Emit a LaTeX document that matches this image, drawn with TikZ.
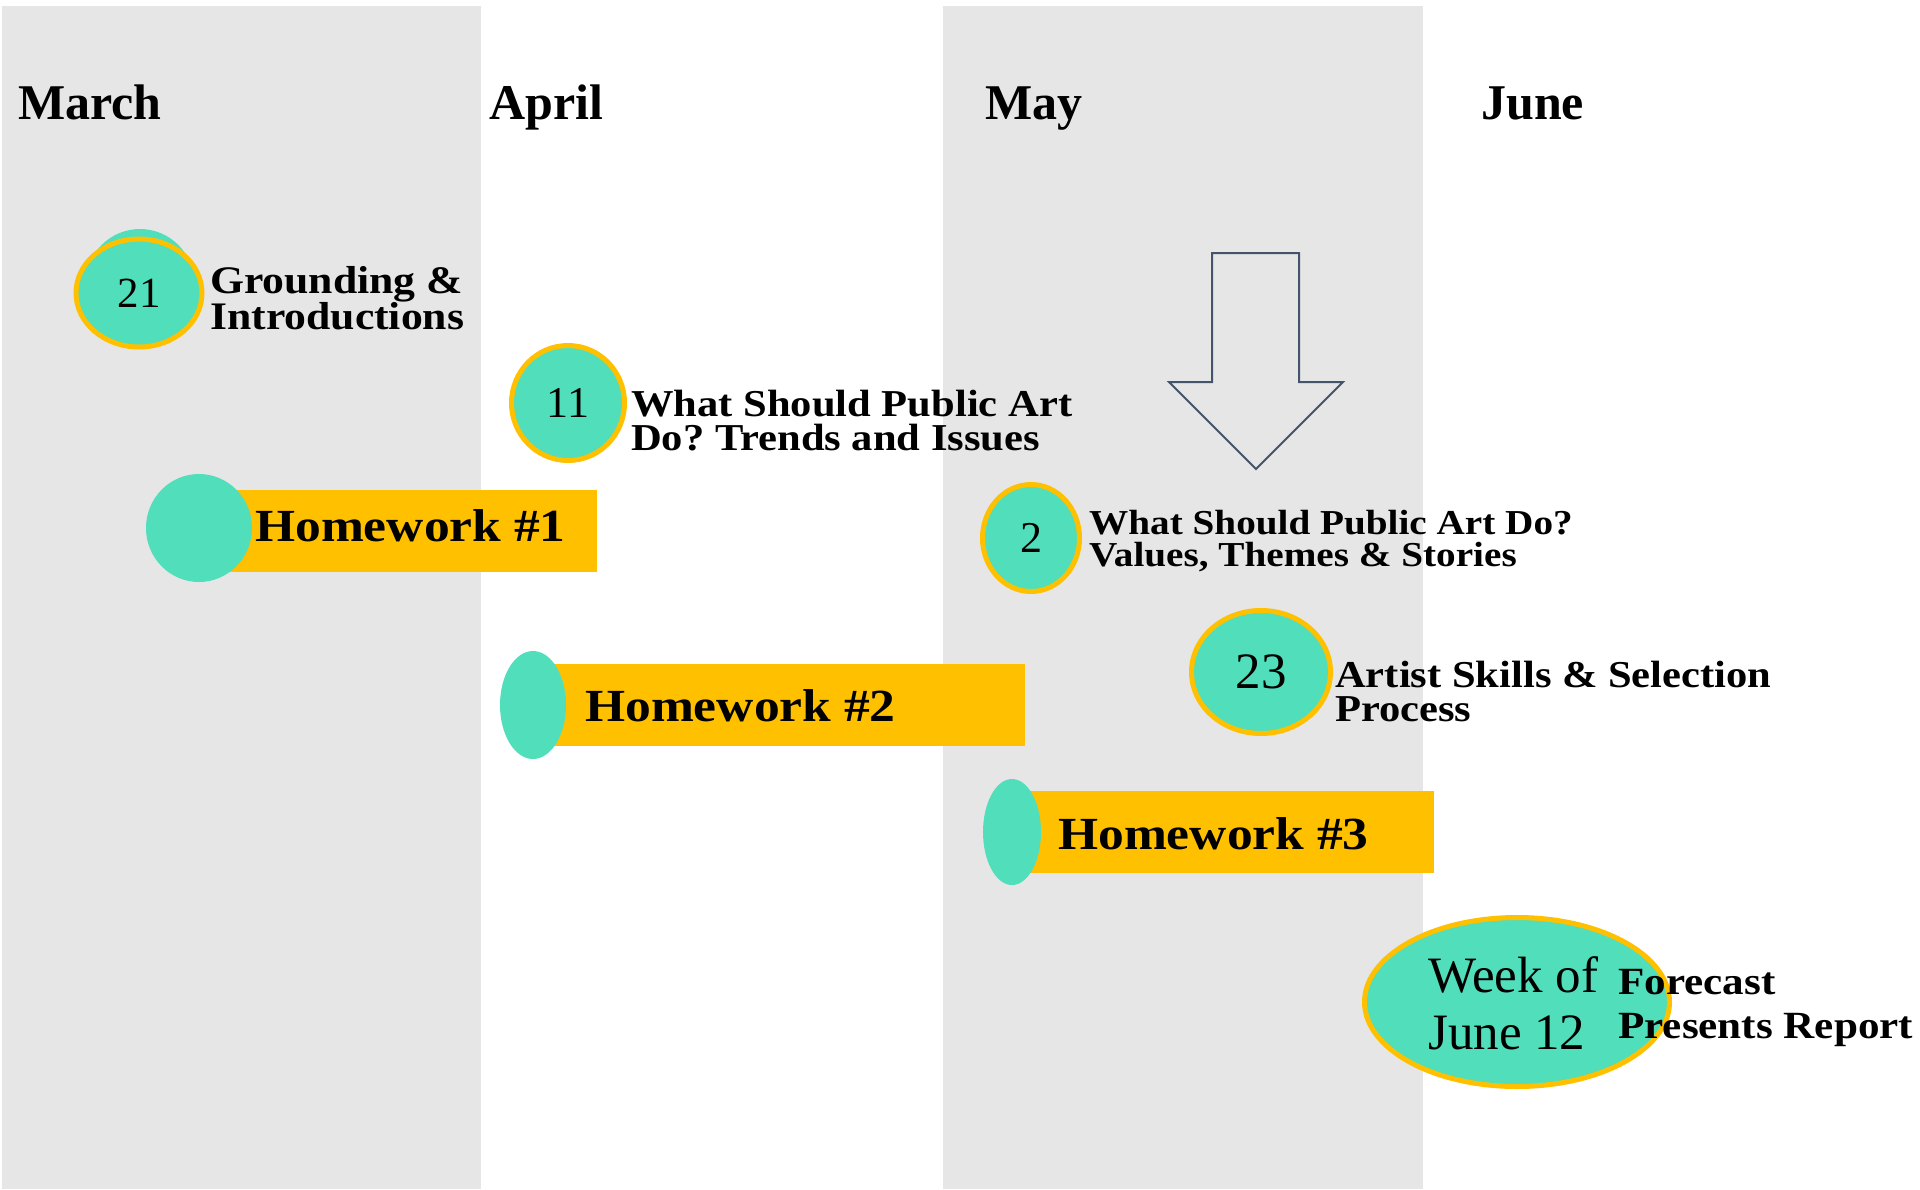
\documentclass[tikz,border=0pt]{standalone}
\usepackage{fontspec}
\setmainfont{Liberation Serif}
\newfontfamily\headfont{Liberation Serif}
\newfontfamily\labelfont{Liberation Serif}[FakeStretch=1.12]
\usetikzlibrary{shapes.geometric}
\frenchspacing

\definecolor{bandgray}{RGB}{230,230,230}
\definecolor{mint}{RGB}{80,222,187}
\definecolor{amber}{RGB}{255,192,0}
\definecolor{slate}{RGB}{68,84,106}

\begin{document}
\begin{tikzpicture}[x=1pt,y=-1pt,
  band/.style={fill=bandgray, draw=none},
  month/.style={anchor=base west, inner sep=0pt, font=\headfont\bfseries\fontsize{50}{60}\selectfont},
  datering/.style={ellipse, draw=amber, fill=mint, line width=5pt, inner sep=0pt},
  blob/.style={ellipse, fill=mint, draw=none, inner sep=0pt},
  bar/.style={rectangle, fill=amber, draw=none, inner sep=0pt, anchor=north west},
  topic/.style={anchor=base west, inner sep=0pt, font=\labelfont\bfseries},
  hw/.style={anchor=base west, inner sep=0pt, font=\labelfont\bfseries\fontsize{46}{54}\selectfont},
]
% canvas
\fill[white] (0,0) rectangle (1920,1189);
\useasboundingbox (0,0) rectangle (1920,1189);

% month columns
\fill[band] (2,6) rectangle (481,1189);
\fill[band] (943,6) rectangle (1423,1189);

\node[month] (march) at (18,119) {March};
\node[month] (april) at (489,119) {April};
\node[month] (may)   at (985,119) {May};
\node[month] (june)  at (1481,119) {June};

% March 21
\node[blob, minimum width=108pt, minimum height=108pt] (shadow21) at (140,283) {};
\node[datering, minimum width=126pt, minimum height=108pt, font=\fontsize{43}{48}\selectfont] (d21) at (139,293) {21};
\node[topic] (t21) at (210,293) {\parbox[t]{300pt}{\fontsize{39}{33}\selectfont Grounding \&\\Introductions}};

% Homework 1
\node[bar, minimum width=370pt, minimum height=82pt] (bar1) at (227,490) {};
\node[blob, minimum width=106pt, minimum height=108pt] (dot1) at (199,528) {};
\node[hw] (hw1) at (255,541) {Homework \#1};

% April 11
\node[datering, minimum width=113pt, minimum height=115pt, font=\fontsize{44}{50}\selectfont] (d11) at (568,403) {11};
\node[topic] (t11) at (631,416) {\parbox[t]{500pt}{\fontsize{38}{34}\selectfont What Should Public Art\\Do? Trends and Issues}};

% Homework 2
\node[bar, minimum width=478pt, minimum height=82pt] (bar2) at (547,664) {};
\node[blob, minimum width=66pt, minimum height=108pt] (dot2) at (533,705) {};
\node[hw] (hw2) at (585,721) {Homework \#2};

% arrow pointing down into May
\draw[slate, line width=2pt, line join=miter]
  (1212,253) -- (1299,253) -- (1299,382) -- (1343,382) -- (1256,469)
  -- (1169,382) -- (1212,382) -- cycle;

% May 2
\node[datering, minimum width=97pt, minimum height=107pt, font=\fontsize{44}{50}\selectfont] (d2) at (1031,538) {2};
\node[topic] (t2) at (1089,534) {\parbox[t]{500pt}{\fontsize{35}{32}\selectfont What Should Public Art Do?\\Values, Themes \& Stories}};

% May 23
\node[datering, minimum width=139pt, minimum height=123pt, font=\fontsize{51}{56}\selectfont] (d23) at (1261,672) {23};
\node[topic] (t23) at (1335,687) {\parbox[t]{500pt}{\fontsize{38}{34}\selectfont Artist Skills \& Selection\\Process}};

% Homework 3
\node[bar, minimum width=405pt, minimum height=82pt] (bar3) at (1029,791) {};
\node[blob, minimum width=58pt, minimum height=106pt] (dot3) at (1012,832) {};
\node[hw] (hw3) at (1058,849) {Homework \#3};

% June
\node[datering, minimum width=305pt, minimum height=169pt] (djune) at (1517,1002) {};
\node[anchor=base west, inner sep=0pt] (wjune) at (1428,992) {\parbox[t]{200pt}{\fontsize{51}{57}\selectfont Week of\\June 12}};
\node[topic] (tjune) at (1618,994) {\parbox[t]{300pt}{\fontsize{38.5}{44}\selectfont Forecast\\Presents Report}};
\end{tikzpicture}
\end{document}
